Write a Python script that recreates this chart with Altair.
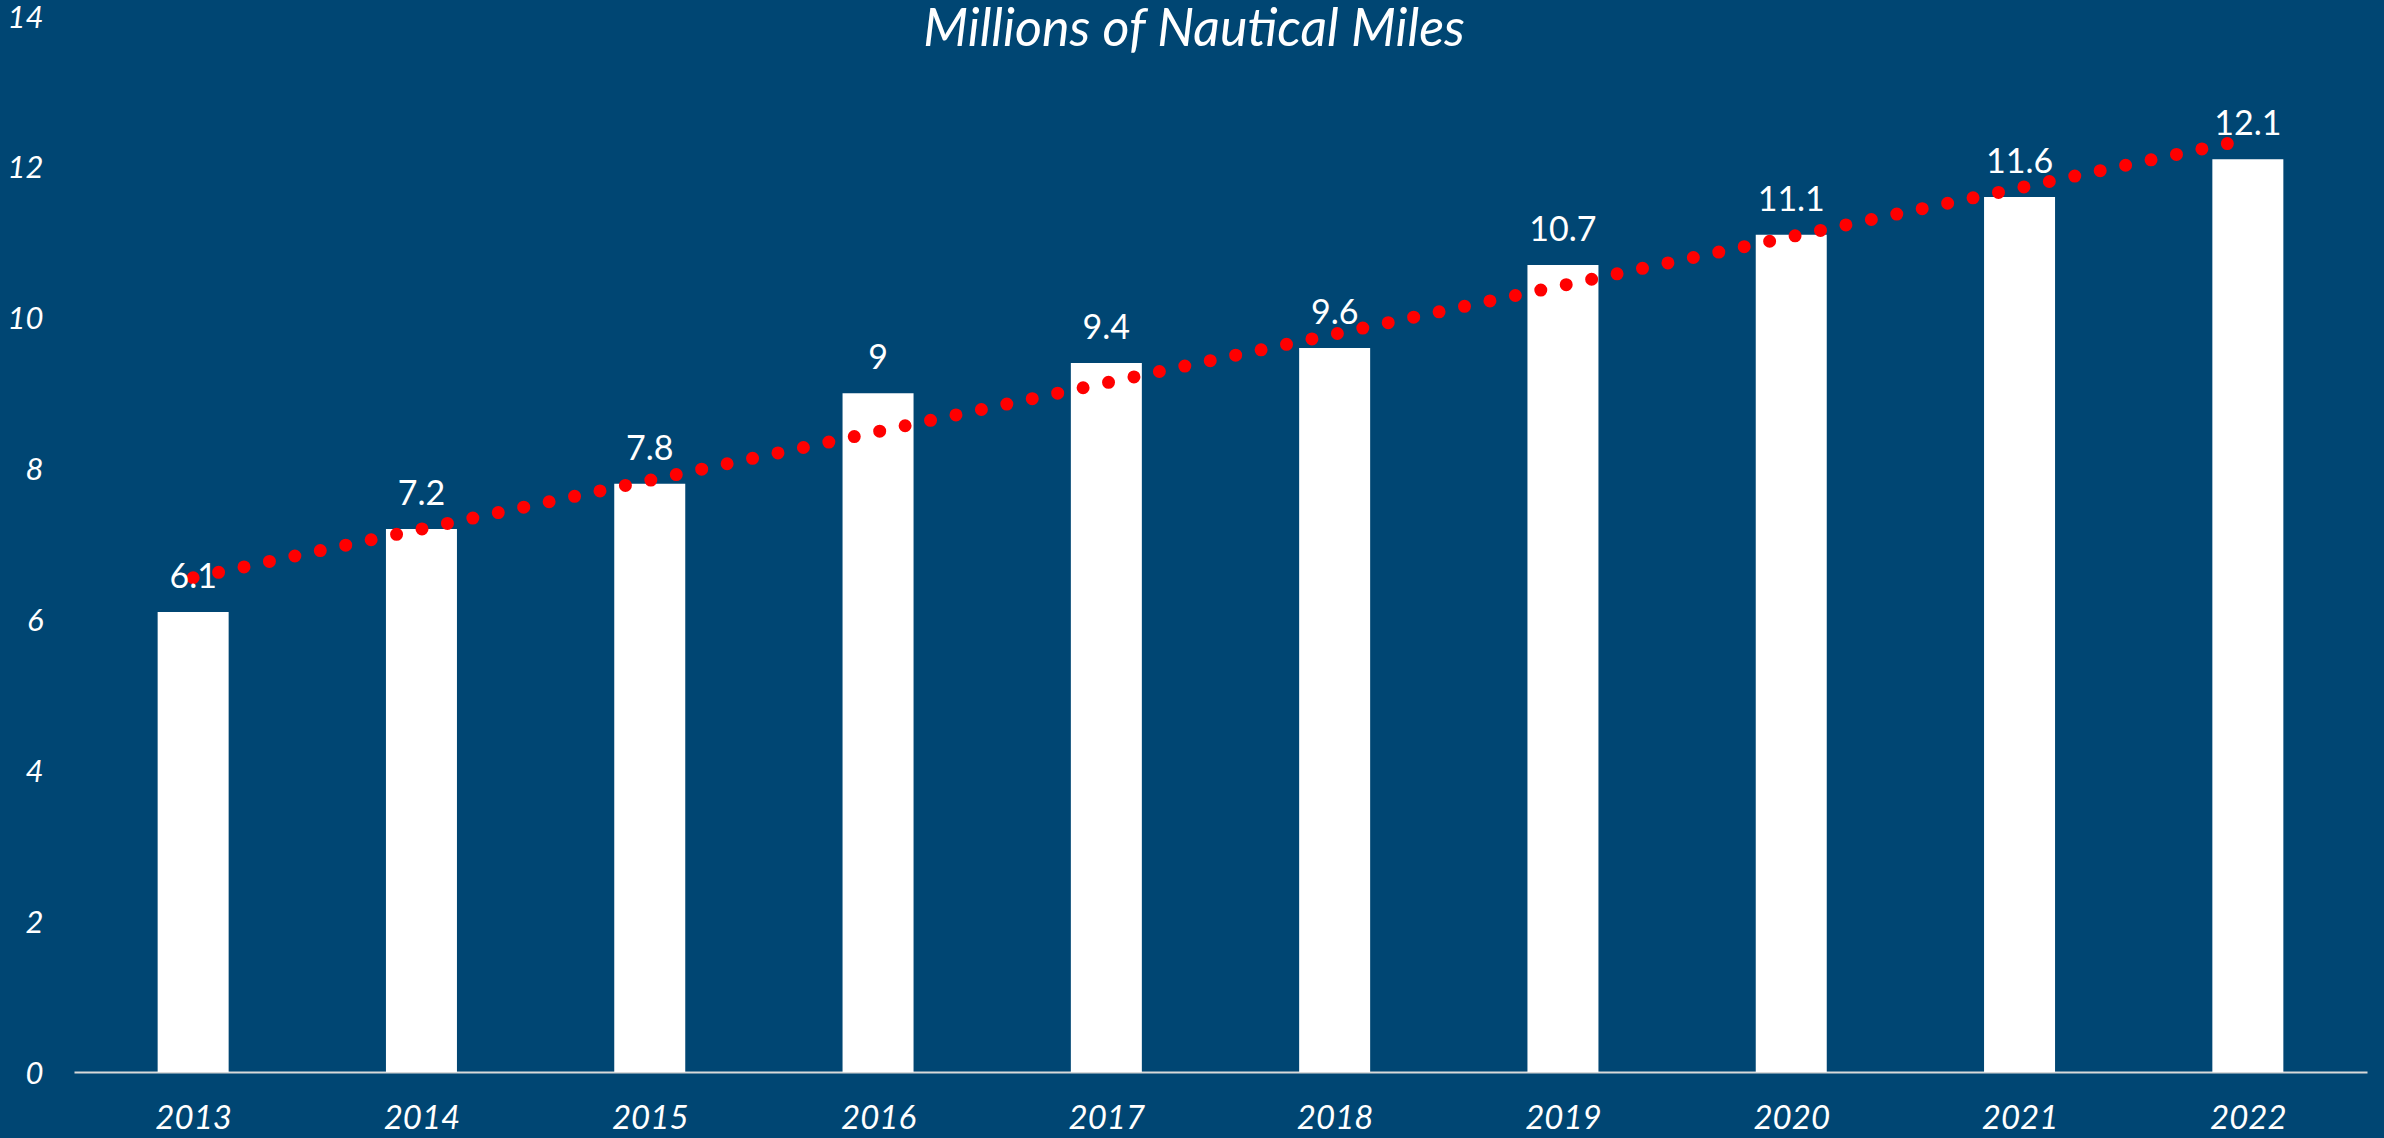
import altair as alt
import pandas as pd
import jinja2

years = [2013, 2014, 2015, 2016, 2017, 2018, 2019, 2020, 2021, 2022]
miles = [6.1, 7.2, 7.8, 9.0, 9.4, 9.6, 10.7, 11.1, 11.6, 12.1]
labels = ["6.1", "7.2", "7.8", "9", "9.4", "9.6", "10.7", "11.1", "11.6", "12.1"]
y_ticks = [0, 2, 4, 6, 8, 10, 12, 14]
title_text = ["Millions of Nautical Miles"]

df = pd.DataFrame({"year": years, "value": miles, "label": labels})

BG = "#004673"
FONT = "Lato"

x = alt.X(
    "year:Q",
    scale=alt.Scale(domain=[2012.5, 2022.5], nice=False, zero=False),
    axis=alt.Axis(
        values=years, format="d", title=None, ticks=False, tickSize=0, grid=False,
        domain=True, domainColor="#d9d9d9", domainWidth=2,
        labelColor="white", labelFont=FONT, labelFontSize=33, labelFontStyle="italic",
        labelPadding=30,
    ),
)
y = alt.Y(
    "value:Q",
    scale=alt.Scale(domain=[0, 14], nice=False),
    axis=alt.Axis(
        values=y_ticks, title=None, ticks=False, tickSize=0, grid=False, domain=False,
        labelColor="white", labelFont=FONT, labelFontSize=31, labelFontStyle="italic",
        labelPadding=31, labelOffset=2,
    ),
)

base = alt.Chart(df)

bars = base.mark_bar(color="white", size=71).encode(x=x, y=y)

text = base.mark_text(
    color="white", font=FONT, fontSize=34, baseline="alphabetic", dy=-24
).encode(x=x, y=y, text="label:N")

trend = base.transform_regression("year", "value", method="linear").mark_line(
    color="#ff0000", strokeWidth=13, strokeCap="round", strokeDash=[0, 26]
).encode(x=x, y=y)

title = alt.Chart(pd.DataFrame({"t": title_text})).mark_text(
    color="white", font=FONT, fontSize=52, fontStyle="italic", baseline="alphabetic",
    align="center",
).encode(x=alt.value(1120), y=alt.value(30), text="t:N")

TEMPLATE = jinja2.Template("""<!DOCTYPE html>
<html>
<head>
  <style>
    html, body { margin: 0; padding: 0; background: """ + BG + """; overflow: hidden; }
    #{{ output_div }}.vega-embed { width: 100%; display: flex; }
  </style>
  <script type="text/javascript" src="{{ base_url }}/vega@{{ vega_version }}"></script>
  <script type="text/javascript" src="{{ base_url }}/vega-lite@{{ vegalite_version }}"></script>
  <script type="text/javascript" src="{{ base_url }}/vega-embed@{{ vegaembed_version }}"></script>
</head>
<body>
  <div id="{{ output_div }}"></div>
  <script>
    (function(vegaEmbed) {
      var spec = {{ spec }};
      var embedOpt = {{ embed_options }};
      vegaEmbed("#{{ output_div }}", spec, embedOpt).catch(function(e){ document.body.innerText = String(e); });
    })(vegaEmbed);
  </script>
</body>
</html>
""")


def make(pad_left, pad_top, pad_bottom):
    return alt.layer(bars, trend, text, title).properties(
        width=2293,
        height=1056,
        background=BG,
        padding={"left": pad_left, "top": pad_top, "right": 17, "bottom": pad_bottom},
        autosize=alt.AutoSizeParams(type="none"),
    ).configure_view(stroke=None)


try:
    chart = make(74, 16, 66)
    chart.save("out.html", embed_options={"renderer": "svg", "actions": False}, template=TEMPLATE)
except Exception:
    chart = make(66, 8, 58)
    chart.save("out.html", embed_options={"renderer": "svg", "actions": False})
